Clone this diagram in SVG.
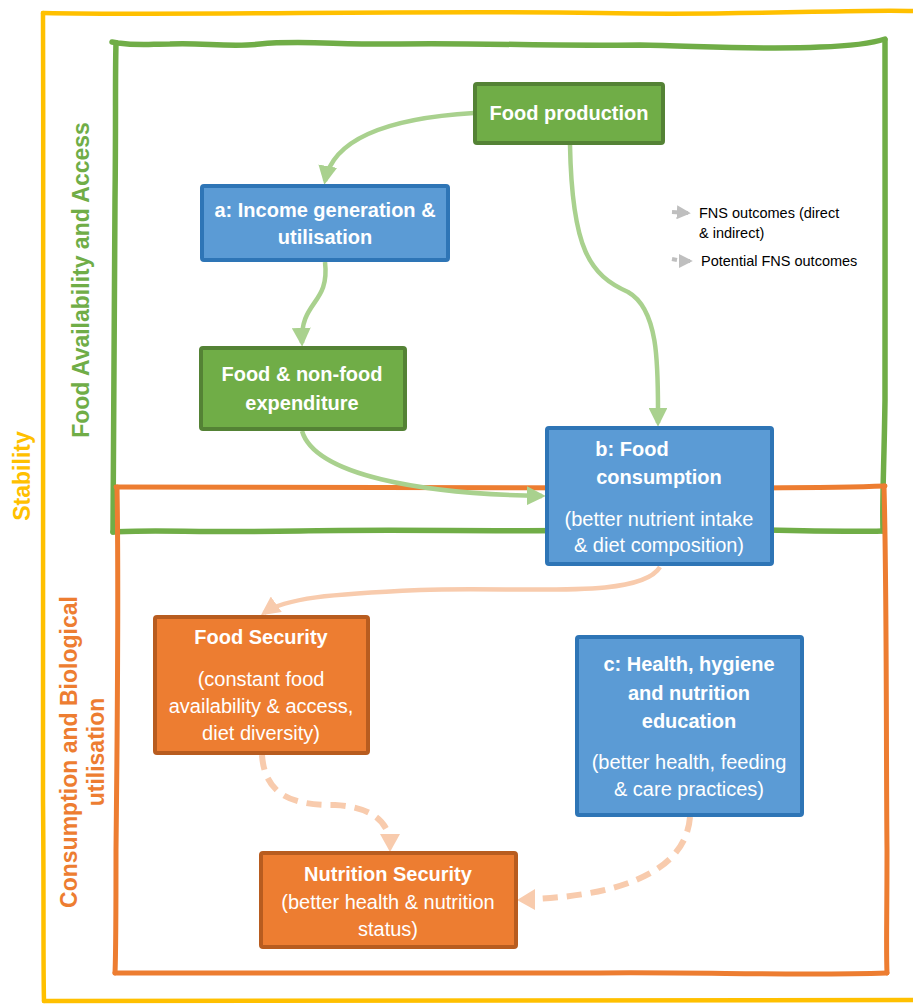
<svg xmlns="http://www.w3.org/2000/svg" width="913" height="1004" viewBox="0 0 913 1004">
<defs>
<style>
.frame{fill:none;stroke-linecap:round;stroke-linejoin:round}
.yel{stroke:#FFC000;stroke-width:4.5}
.grn{stroke:#70AD47;stroke-width:5.5}
.org{stroke:#ED7D31;stroke-width:5}
.box{stroke-width:4}
.g{fill:#70AD47;stroke:#548235}
.b{fill:#5B9BD5;stroke:#2E75B6}
.o{fill:#ED7D31;stroke:#B85C1F}
.t{font-family:"Liberation Sans",Arial,sans-serif;font-size:20px;fill:#fff;text-anchor:middle}
.bold{font-weight:bold}
.lab{font-family:"Liberation Sans",Arial,sans-serif;font-weight:bold;text-anchor:middle;font-size:23px}
.leg{font-family:"Liberation Sans",Arial,sans-serif;font-size:14.5px;fill:#000}
.cg{fill:none;stroke:#A9D18E;stroke-width:4.5}
.cp{fill:none;stroke:#F8CBAD;stroke-width:4.5}
.dash{stroke-width:6;stroke-dasharray:15 9}
</style>
<marker id="ag" viewBox="0 0 10 10" refX="8" refY="5" markerWidth="4.2" markerHeight="4.2" orient="auto" markerUnits="strokeWidth"><path d="M0,0 L10,5 L0,10 z" fill="#A9D18E"/></marker>
<marker id="ap" viewBox="0 0 10 10" refX="8" refY="5" markerWidth="4.2" markerHeight="4.2" orient="auto" markerUnits="strokeWidth"><path d="M0,0 L10,5 L0,10 z" fill="#F8CBAD"/></marker>
<marker id="ay" viewBox="0 0 10 10" refX="8" refY="5" markerWidth="3.5" markerHeight="3.5" orient="auto" markerUnits="strokeWidth"><path d="M0,0 L10,5 L0,10 z" fill="#BFBFBF"/></marker>
</defs>

<g id="frames">
<path class="frame yel" d="M43,13 C200,16 400,10 600,13 C750,16 850,9 913,11"/>
<path class="frame yel" d="M43,13 C44,300 41,600 43,800 C44,900 43,960 44,1001"/>
<path class="frame yel" d="M44,1001 C300,1000 600,1003 913,1000"/>
<path class="frame grn" d="M112,42 L118,43 C140,46 150,44 170,44 C200,42 230,48 260,44 C300,40 340,45 400,44 C480,43 560,46 640,45 C700,46 760,50 820,47 C850,46 870,44 885,39"/>
<path class="frame grn" d="M885,40 C886,150 884,300 885,400 C884,470 882,500 883,531"/>
<path class="frame grn" d="M883,531 C800,533 700,526 600,530 C500,532 400,529 300,531 C200,533 150,529 113,532"/>
<path class="frame grn" d="M113,532 C114,400 114,300 115,200 C116,120 115,80 116,43"/>
<path class="frame org" d="M116,487 C300,487 500,488 700,488 C800,488 860,487 885,486"/>
<path class="frame org" d="M884,486 C887,600 886,750 887,850 C887,920 886,950 887,973"/>
<path class="frame org" d="M887,973 C800,976 700,972 600,973 C400,974 250,973 115,973"/>
<path class="frame org" d="M117,487 C119,600 117,750 116,850 C116,920 116,950 115,973"/>
</g>

<g id="labels">
<text class="lab" fill="#FFC000" transform="translate(30,476) rotate(-90)">Stability</text>
<text class="lab" fill="#70AD47" transform="translate(89,280) rotate(-90)">Food Availability and Access</text>
<text class="lab" fill="#ED7D31" transform="translate(77,752) rotate(-90)">Consumption and Biological</text>
<text class="lab" fill="#ED7D31" transform="translate(104,752) rotate(-90)">utilisation</text>
</g>

<g id="connectors">
<path class="cg" d="M474,113 C390,118 333,138 325,181" marker-end="url(#ag)"/>
<path class="cg" d="M325,262 C330,305 300,300 302,343" marker-end="url(#ag)"/>
<path class="cg" d="M570,145 C572,250 590,275 628,292 C660,310 658,370 658,423" marker-end="url(#ag)"/>
<path class="cg" d="M302,431 C315,475 420,494 542,496" marker-end="url(#ag)"/>
<path class="cp" d="M660,567 C640,600 520,586 420,590 C330,594 285,598 264,613" marker-end="url(#ap)"/>
<path class="cp dash" d="M262,755 C265,800 300,805 335,805 C375,807 390,825 390,845"/>
<path d="M380,834 L400,834 L390,852 z" fill="#F8CBAD"/>
<path class="cp dash" d="M690,817 C685,880 600,896 534,899"/>
<path d="M535,889 L535,910 L517,900 z" fill="#F8CBAD"/>
</g>

<g id="legend">
<path d="M672,212 L688,213" stroke="#BFBFBF" stroke-width="4" marker-end="url(#ay)"/>
<text class="leg" x="699" y="218">FNS outcomes (direct</text>
<text class="leg" x="699" y="238">&amp; indirect)</text>
<path d="M672,259 L677,260 M681,261 L690,261" stroke="#BFBFBF" stroke-width="4" marker-end="url(#ay)"/>
<text class="leg" x="701" y="266">Potential FNS outcomes</text>
</g>

<g id="food-production">
<rect class="box g" x="475" y="84" width="188" height="59" rx="2"/>
<text class="t bold" x="569" y="120">Food production</text>
</g>

<g id="income">
<rect class="box b" x="202" y="186" width="246" height="74" rx="2"/>
<text class="t bold" x="325" y="217">a: Income generation &amp;</text>
<text class="t bold" x="325" y="244">utilisation</text>
</g>

<g id="expenditure">
<rect class="box g" x="201" y="348" width="204" height="81" rx="2"/>
<text class="t bold" x="302" y="381">Food &amp; non-food</text>
<text class="t bold" x="302" y="410">expenditure</text>
</g>

<g id="consumption">
<rect class="box b" x="547" y="428" width="225" height="136" rx="2"/>
<text class="t bold" x="632" y="456">b: Food</text>
<text class="t bold" x="659" y="484">consumption</text>
<text class="t" x="659" y="526">(better nutrient intake</text>
<text class="t" x="659" y="552">&amp; diet composition)</text>
</g>

<g id="food-security">
<rect class="box o" x="155" y="617" width="213" height="136" rx="2"/>
<text class="t bold" x="261" y="644">Food Security</text>
<text class="t" x="261" y="686">(constant food</text>
<text class="t" x="261" y="713">availability &amp; access,</text>
<text class="t" x="261" y="740">diet diversity)</text>
</g>

<g id="health">
<rect class="box b" x="577" y="637" width="225" height="178" rx="2"/>
<text class="t bold" x="689" y="671">c: Health, hygiene</text>
<text class="t bold" x="689" y="700">and nutrition</text>
<text class="t bold" x="689" y="728">education</text>
<text class="t" x="689" y="769">(better health, feeding</text>
<text class="t" x="689" y="796">&amp; care practices)</text>
</g>

<g id="nutrition-security">
<rect class="box o" x="261" y="853" width="255" height="94" rx="2"/>
<text class="t bold" x="388" y="881">Nutrition Security</text>
<text class="t" x="388" y="909">(better health &amp; nutrition</text>
<text class="t" x="388" y="936">status)</text>
</g>
</svg>
